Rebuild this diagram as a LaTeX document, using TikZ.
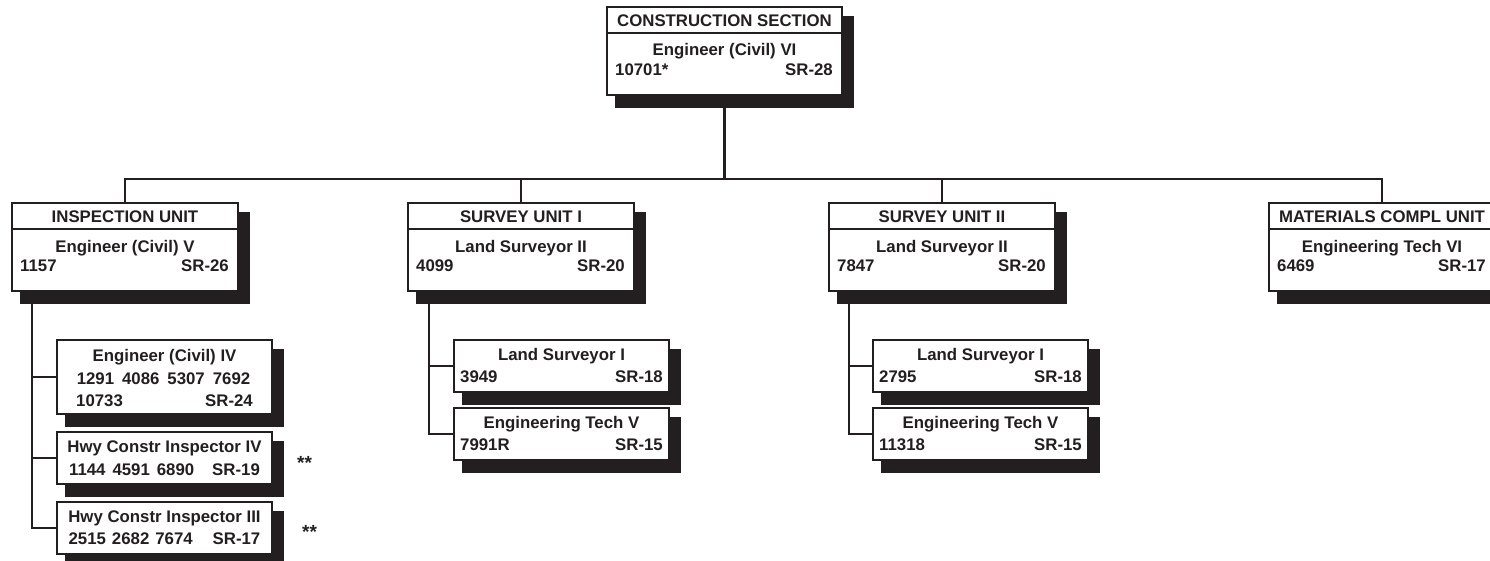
\documentclass[tikz,border=0pt]{standalone}
\usepackage{fontspec}
\setmainfont{Liberation Sans}
\usetikzlibrary{calc}
\definecolor{shad}{HTML}{231F20}
\newcommand\obox[5]{%
  \fill[shad] (#2+9,#3+10) rectangle (#2+#4+13,#3+#5+14);
  \node[box, minimum width=#4pt, minimum height=#5pt] (#1) at (#2,#3) {};
}
\newcommand\unitbox[8]{%
  \obox{#1}{#2}{#3}{#4}{88}
  \draw[lnk] ($(#1.north west)+(0,27)$) -- ($(#1.north east)+(0,27)$);
  \node[txt,anchor=base] (#1-t) at ($(#1.north)+(0,21)$) {#5};
  \node[txt,anchor=base] (#1-p) at ($(#1.north)+(0,50)$) {#6};
  \node[txt,anchor=base west] (#1-l) at ($(#1.north west)+(9,70)$) {#7};
  \node[txt,anchor=base east] (#1-r) at ($(#1.north east)+(-10,70)$) {#8};
}
\newcommand\subbox[6]{%
  \obox{#1}{#2}{#3}{215}{52}
  \node[txt,anchor=base] (#1-p) at ($(#1.north)+(0,21)$) {#4};
  \node[txt,anchor=base west] (#1-l) at ($(#1.north west)+(7,43)$) {#5};
  \node[txt,anchor=base east] (#1-r) at ($(#1.north east)+(-7,43)$) {#6};
}
\begin{document}
\begin{tikzpicture}[x=1pt,y=-1pt,
  box/.style={draw=shad, line width=2pt, fill=white, inner sep=0pt, anchor=north west},
  lnk/.style={draw=shad, line width=2.2pt},
  txt/.style={inner sep=0pt, font=\fontsize{16.8}{18}\selectfont\bfseries, text=shad},
]
\useasboundingbox (0,0) rectangle (1490,561);

% top box
\unitbox{top}{606}{6}{235}{CONSTRUCTION SECTION}{Engineer (Civil) VI}{10701*}{SR-28}

% unit boxes
\unitbox{insp}{11}{202}{226}{INSPECTION UNIT}{Engineer (Civil) V}{1157}{SR-26}
\unitbox{surv1}{407}{202}{226}{SURVEY UNIT I}{Land Surveyor II}{4099}{SR-20}
\unitbox{surv2}{828}{202}{226}{SURVEY UNIT II}{Land Surveyor II}{7847}{SR-20}
\unitbox{mat}{1268}{202}{226}{MATERIALS COMPL UNIT}{Engineering Tech VI}{6469}{SR-17}

% inspection sub boxes
\obox{engIV}{56}{339}{215}{74}
\node[txt,anchor=base] (engIV-p) at ($(engIV.north)+(0,22)$) {Engineer (Civil) IV};
\node[txt,anchor=base] (engIV-n) at ($(engIV.north)+(-1,45)$) {1291\hspace{8pt}4086\hspace{8pt}5307\hspace{8pt}7692};
\node[txt,anchor=base west] (engIV-l) at ($(engIV.north west)+(20,67)$) {10733};
\node[txt,anchor=base east] (engIV-r) at ($(engIV.north east)+(-20,67)$) {SR-24};

\obox{hwyIV}{56}{431}{215}{52}
\node[txt,anchor=base] (hwyIV-p) at ($(hwyIV.north)+(0,21)$) {Hwy Constr Inspector IV};
\node[txt,anchor=base] (hwyIV-n) at ($(hwyIV.north)+(0,44)$) {1144\hspace{7pt}4591\hspace{7pt}6890\hspace{18pt}SR-19};

\obox{hwyIII}{56}{501}{215}{52}
\node[txt,anchor=base] (hwyIII-p) at ($(hwyIII.north)+(0,21)$) {Hwy Constr Inspector III};
\node[txt,anchor=base] (hwyIII-n) at ($(hwyIII.north)+(0,43)$) {2515\hspace{6pt}2682\hspace{6pt}7674\hspace{20pt}SR-17};

\node[txt,anchor=base west,font=\fontsize{19}{20}\selectfont\bfseries] (st1) at (297,469) {**};
\node[txt,anchor=base west,font=\fontsize{19}{20}\selectfont\bfseries] (st2) at (302,538) {**};

% survey sub boxes
\subbox{ls1}{453}{339}{Land Surveyor I}{3949}{SR-18}
\subbox{et1}{453}{407}{Engineering Tech V}{7991R}{SR-15}
\subbox{ls2}{872}{339}{Land Surveyor I}{2795}{SR-18}
\subbox{et2}{872}{407}{Engineering Tech V}{11318}{SR-15}

% connectors
\draw[lnk] (top.south) -- ++(0,83) coordinate (hub);
\draw[lnk] (insp.north) |- (hub);
\draw[lnk] (surv1.north) |- (hub);
\draw[lnk] (surv2.north) |- (hub);
\draw[lnk] (mat.north) |- (hub);

\draw[lnk] (insp.south west) ++(21,0) coordinate (is0) |- (hwyIII.west);
\draw[lnk] (is0 |- engIV.west) -- (engIV.west);
\draw[lnk] (is0 |- hwyIV.west) -- (hwyIV.west);

\draw[lnk] (surv1.south west) ++(22,0) coordinate (s10) |- (et1.west);
\draw[lnk] (s10 |- ls1.west) -- (ls1.west);

\draw[lnk] (surv2.south west) ++(21,0) coordinate (s20) |- (et2.west);
\draw[lnk] (s20 |- ls2.west) -- (ls2.west);
\end{tikzpicture}
\end{document}
